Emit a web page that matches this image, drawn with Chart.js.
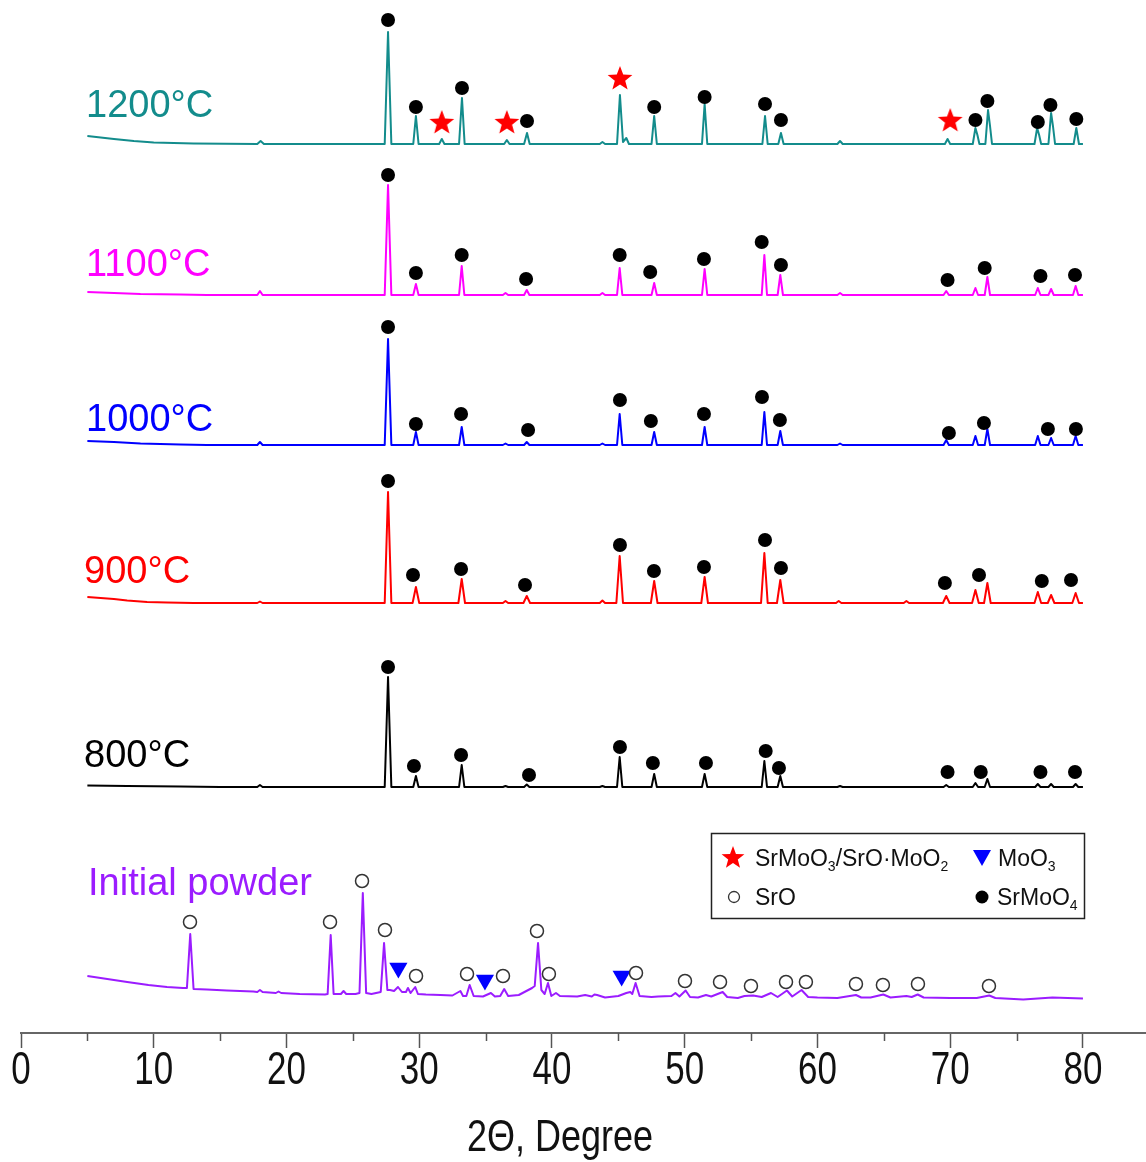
<!DOCTYPE html>
<html><head><meta charset="utf-8">
<script src="https://cdn.jsdelivr.net/npm/chart.js@4.4.0/dist/chart.umd.min.js"></script>
<style>html,body{margin:0;padding:0;background:#fff;} #wrap{width:1146px;height:1162px;}</style>
</head><body><div id="wrap"><canvas id="c" width="1146" height="1162"></canvas></div>
<script>
// ---------------- data ----------------
const seriesNames  = ['1200°C','1100°C','1000°C','900°C','800°C','Initial powder'];
const seriesColors = ['#138c8c','#ff00ff','#0000ff','#ff0000','#000000','#9b1cff'];
// vertical stacking offset of each pattern (intensity units)
const offsets = [889, 738, 588, 430, 246, 35];
const xTicks = [0,10,20,30,40,50,60,70,80];
const minorTicks = [5,15,25,35,45,55,65,75];
const xTitle = '2Θ, Degree';

// patterns: [2θ, intensity above own baseline]
const s1200 = [[5,8],[6,6.5],[7,5],[8.5,3],[10,1.5],[13,0.5],[17.8,0],[18.05,3],[18.3,0],
 [27.4,0],[27.65,112],[27.9,0],[29.55,0],[29.75,28],[29.95,0],[31.5,0],[31.7,5],[31.9,0],
 [33.0,0],[33.22,46],[33.42,0],[36.4,0],[36.6,4],[36.8,0],[37.9,0],[38.12,11],[38.32,0],
 [43.6,0],[43.8,2],[44.0,0],[44.9,0],[45.12,49],[45.35,2],[45.6,6],[45.8,0],
 [47.5,0],[47.7,28],[47.9,0],[51.3,0],[51.5,40],[51.7,0],[55.85,0],[56.05,28],[56.25,0],
 [57.05,0],[57.25,11],[57.45,0],[61.5,0],[61.7,3],[61.9,0],[69.6,0],[69.8,5],[70.0,0],
 [71.7,0],[71.9,16],[72.05,9],[72.2,0],[72.65,0],[72.85,34],[73.0,18],[73.15,0],
 [76.35,0],[76.55,16],[76.7,9],[76.85,0],[77.4,0],[77.6,31],[77.75,17],[77.9,0],
 [79.3,0],[79.5,16],[79.7,0],[80,0]];
const s1100 = [[5,3],[7,2],[9,1],[12,0.5],[14,0],[17.8,0],[18.0,4],[18.2,0],
 [27.4,0],[27.65,110],[27.9,0],[29.55,0],[29.75,11],[29.95,0],[33.0,0],[33.2,29],[33.4,0],
 [36.3,0],[36.5,2],[36.7,0],[37.9,0],[38.1,5],[38.3,0],[43.6,0],[43.8,2],[44.0,0],
 [44.9,0],[45.1,27],[45.3,0],[47.5,0],[47.7,12],[47.9,0],[51.3,0],[51.5,26],[51.7,0],
 [55.8,0],[56.0,40],[56.2,0],[57.0,0],[57.2,20],[57.4,0],[61.5,0],[61.7,2],[61.9,0],
 [69.5,0],[69.7,4],[69.9,0],[71.7,0],[71.9,7],[72.1,0],[72.6,0],[72.8,18],[73.0,0],
 [76.4,0],[76.6,7],[76.8,0],[77.4,0],[77.6,6],[77.8,0],[79.25,0],[79.45,9],[79.65,0],[80,0]];
const s1000 = [[5,4],[7,3],[9,1.5],[12,0.5],[14,0],[17.8,0],[18.0,3],[18.2,0],
 [27.4,0],[27.65,106],[27.9,0],[29.55,0],[29.75,13],[29.95,0],[33.0,0],[33.2,18],[33.4,0],
 [36.3,0],[36.5,1.5],[36.7,0],[37.9,0],[38.1,3],[38.3,0],[43.6,0],[43.8,1.5],[44.0,0],
 [44.9,0],[45.1,31],[45.3,0],[47.5,0],[47.7,13],[47.9,0],[51.3,0],[51.5,18],[51.7,0],
 [55.8,0],[56.0,33],[56.2,0],[57.0,0],[57.2,14],[57.4,0],[61.5,0],[61.7,1.5],[61.9,0],
 [69.5,0],[69.7,5],[69.9,0],[71.7,0],[71.9,9],[72.1,0],[72.6,0],[72.8,16],[73.0,0],
 [76.4,0],[76.6,9],[76.8,0],[77.4,0],[77.6,7],[77.8,0],[79.25,0],[79.45,9],[79.65,0],[80,0]];
const s900 = [[5,6],[6,5],[7,4],[8,2.5],[9.5,1],[11,0.5],[13,0],[17.8,0],[18.0,1.5],[18.2,0],
 [27.4,0],[27.65,111],[27.9,0],[29.5,0],[29.75,16],[30.0,0],[32.95,0],[33.2,24],[33.45,0],
 [36.3,0],[36.5,2],[36.7,0],[37.85,0],[38.1,7],[38.35,0],[43.6,0],[43.8,2.5],[44.0,0],
 [44.85,0],[45.1,47],[45.35,0],[47.45,0],[47.7,22],[47.95,0],[51.25,0],[51.5,26],[51.75,0],
 [55.75,0],[56.0,50],[56.25,0],[56.95,0],[57.2,23],[57.45,0],[61.4,0],[61.6,2],[61.8,0],
 [66.5,0],[66.7,2],[66.9,0],[69.45,0],[69.7,7],[69.95,0],[71.65,0],[71.9,13],[72.15,0],
 [72.55,0],[72.8,20],[73.05,0],[76.35,0],[76.6,11],[76.85,0],[77.35,0],[77.6,8],[77.85,0],
 [79.2,0],[79.45,10],[79.7,0],[80,0]];
const s800 = [[5,1.5],[8,1],[12,0.5],[15,0],[17.8,0],[18.0,2],[18.2,0],
 [27.4,0],[27.65,110],[27.9,0],[29.55,0],[29.75,11],[29.95,0],[33.0,0],[33.2,22],[33.4,0],
 [36.3,0],[36.5,1],[36.7,0],[37.9,0],[38.1,2.5],[38.3,0],[43.6,0],[43.8,1],[44.0,0],
 [44.9,0],[45.1,30],[45.3,0],[47.5,0],[47.7,13],[47.9,0],[51.3,0],[51.5,13],[51.7,0],
 [55.8,0],[56.0,26],[56.2,0],[57.0,0],[57.2,11],[57.4,0],[61.5,0],[61.7,1],[61.9,0],
 [69.5,0],[69.7,2],[69.9,0],[71.7,0],[71.9,4],[72.1,0],[72.6,0],[72.8,8],[73.0,0],
 [76.4,0],[76.6,3],[76.8,0],[77.4,0],[77.6,3],[77.8,0],[79.25,0],[79.45,3],[79.65,0],[80,0]];
const sInit = [[5.0,22],[6,20],[7,18],[8,16],[9.6,13],[11,11],[12.2,10],[12.5,10],[12.75,64],[13.0,9],
 [14,8.5],[15.5,7.5],[17.5,6.5],[17.8,6],[18.0,8],[18.2,6],[19.2,5],[19.4,6.5],[19.6,5],[21,4],
 [22.9,3.5],[23.1,4],[23.33,63],[23.55,4],[24.1,4],[24.3,7],[24.5,4],[25.2,4],[25.5,5],[25.75,105],
 [26.0,5],[26.4,4],[27.1,6],[27.35,55],[27.6,8],[27.8,8],[28.1,7],[28.4,11],[28.7,6],[29.0,6],
 [29.15,10],[29.35,5],[29.7,11],[29.9,4],[30.5,3.5],[31.6,3],[32.5,2.5],[33.1,7],[33.3,2],[33.55,2],
 [33.8,13],[34.1,2],[34.8,1.5],[35.4,5],[35.7,1.5],[36.1,2],[36.4,9],[36.7,2],[37.5,3],[38.5,10],
 [38.7,12],[38.95,55],[39.2,8],[39.45,4],[39.7,15],[39.95,2],[40.3,5],[40.6,2],[41.9,1.5],[42.5,3],
 [43.0,1.5],[43.2,3.5],[43.4,3],[44.0,0.5],[45.0,2],[45.6,5],[45.9,6],[46.05,4],[46.3,15],[46.6,2],
 [47.5,1],[48.0,1.5],[49.0,2],[49.3,5],[49.6,1.5],[50.07,7.5],[50.4,1],[51.0,0.5],[51.6,3],[52.0,1.5],
 [52.86,6],[53.2,1],[54.0,0],[54.5,2],[55.15,2.5],[55.8,1],[56.5,5],[57.0,1],[57.7,7.5],[58.1,1.5],
 [58.8,8],[59.3,1],[60,0.5],[61.5,0],[62.9,3],[63.3,0.5],[64.0,0.5],[64.96,3.5],[65.5,0.5],[66.7,2],
 [67.1,1],[67.55,3.5],[68.0,0.5],[70,0],[72.0,0],[72.94,2.5],[73.4,0],[75.5,-1.5],[77.7,0.5],[80,-0.5]];
const patterns = [s1200, s1100, s1000, s900, s800, sInit];

// phase markers: [2θ, height above own baseline]
const srmoo4Marks = [
 [[27.65,124],[29.75,37],[33.22,56],[38.12,23],[47.7,37],[51.5,47],[56.05,40],[57.25,24],[71.9,24],[72.8,43],[76.6,22],[77.55,39],[79.5,25]],
 [[27.65,120],[29.75,22],[33.2,40],[38.05,16],[45.1,40],[47.4,23],[51.45,36],[55.8,53],[57.25,30],[69.8,15],[72.6,27],[76.8,19],[79.4,20]],
 [[27.65,118],[29.75,21],[33.15,31],[38.2,15],[45.12,45],[47.45,24],[51.45,31],[55.82,48],[57.17,25],[69.9,12],[72.54,22],[77.36,16],[79.47,16]],
 [[27.65,122],[29.53,28],[33.15,34],[37.97,18],[45.12,58],[47.68,32],[51.45,36],[56.05,63],[57.25,35],[69.6,20],[72.17,28],[76.9,22],[79.1,23]],
 [[27.65,120],[29.6,21],[33.15,32],[38.27,12],[45.12,40],[47.6,24],[51.6,24],[56.1,36],[57.1,19],[69.8,15],[72.3,15],[76.8,15],[79.4,15]],
 []
];
const srmoo3Marks1200 = [[31.7,21],[36.6,21],[45.12,65],[70.0,23]];
const sroMarksInit = [[12.73,76],[23.28,76],[25.69,117],[27.42,68],[29.76,22],[33.6,24],[36.31,22],[38.87,67],[39.77,24],
 [46.33,25],[50.02,17],[52.66,16],[54.99,12],[57.63,16],[59.13,16],[62.9,14],[64.93,13],[67.57,14],[72.92,12]];
const moo3MarksInit = [[28.43,30],[34.95,18],[45.25,22]];
const legendLabels = [['SrMoO','3','/SrO·MoO','2'],['MoO','3'],['SrO'],['SrMoO','4']];

// ---------------- drawing ----------------
const SANS = "'Liberation Sans',Arial,Helvetica,sans-serif";

function makeStar(R, color){
  const s = Math.ceil(R*2+2), c = document.createElement('canvas');
  c.width = s; c.height = s;
  const g = c.getContext('2d'); g.fillStyle = color; g.beginPath();
  for (let i=0;i<10;i++){ const r = i%2 ? R*0.42 : R; const a = -Math.PI/2 + i*Math.PI/5;
    g.lineTo(s/2 + r*Math.cos(a), s/2 + r*Math.sin(a)); }
  g.closePath(); g.fill(); return c;
}
const starImg = makeStar(13, '#ff0000');

const shift = (arr, off) => arr.map(p => ({x:p[0], y:p[1]+off}));
const datasets = [];
patterns.forEach((p,i) => datasets.push({
  data: shift(p, offsets[i]), showLine:true, borderColor:seriesColors[i], borderWidth:2,
  pointRadius:0, tension:0, order:2, borderJoinStyle:'round'
}));
srmoo4Marks.forEach((m,i) => { if (m.length) datasets.push({
  data: shift(m, offsets[i]), showLine:false, pointStyle:'circle', pointRadius:7,
  pointBackgroundColor:'#000', pointBorderColor:'#000', pointBorderWidth:0, order:0 }); });
datasets.push({ data: shift(srmoo3Marks1200, offsets[0]), showLine:false, pointStyle:starImg, pointRadius:13, order:0 });
datasets.push({ data: shift(sroMarksInit, offsets[5]), showLine:false, pointStyle:'circle', pointRadius:6.5,
  pointBackgroundColor:'#fff', pointBorderColor:'#333', pointBorderWidth:1.5, order:0 });
datasets.push({ data: shift(moo3MarksInit, offsets[5]), showLine:false, pointStyle:'triangle', pointRotation:180, pointRadius:10.5,
  pointBackgroundColor:'#0000ff', pointBorderColor:'#0000ff', pointBorderWidth:0, order:0 });

// label anchors: [2θ, height above own baseline] of text baseline start
const labelAnchors = [[4.9,27],[4.9,19],[4.9,14],[4.75,20],[4.75,20],[5.05,103]];

const decor = {
  id:'decor',
  afterDraw(chart){
    const ctx = chart.ctx, xs = chart.scales.x, ys = chart.scales.y;
    ctx.save();
    const yb = chart.chartArea.bottom;
    // minor ticks
    ctx.strokeStyle = '#555'; ctx.lineWidth = 1.5;
    minorTicks.forEach(v => { const px = Math.round(xs.getPixelForValue(v))+0.5;
      ctx.beginPath(); ctx.moveTo(px, yb); ctx.lineTo(px, yb+8); ctx.stroke(); });
    // tick labels (narrow Arial look)
    ctx.fillStyle = '#111'; ctx.textAlign = 'center'; ctx.textBaseline = 'middle';
    ctx.font = '46px ' + SANS;
    xTicks.forEach(v => { ctx.save(); ctx.translate(xs.getPixelForValue(v), yb+38); ctx.scale(0.76,1);
      ctx.fillText(String(v), 0, 0); ctx.restore(); });
    // axis title
    ctx.save(); ctx.translate(560, yb+106); ctx.scale(0.8,1); ctx.font = '45px ' + SANS;
    ctx.fillText(xTitle, 0, 0); ctx.restore();
    // series labels
    ctx.font = '38px ' + SANS; ctx.textBaseline = 'alphabetic'; ctx.textAlign = 'left';
    seriesNames.forEach((n,i) => { ctx.fillStyle = seriesColors[i];
      ctx.fillText(n, xs.getPixelForValue(labelAnchors[i][0]), ys.getPixelForValue(offsets[i]+labelAnchors[i][1])); });
    // legend box
    ctx.strokeStyle = '#222'; ctx.lineWidth = 1.5;
    ctx.strokeRect(711.5, 833.5, 373, 85);
    ctx.drawImage(makeStar(12,'#ff0000'), 733-13, 858-13);
    ctx.fillStyle = '#0000ff'; ctx.beginPath(); ctx.moveTo(973,850); ctx.lineTo(991,850); ctx.lineTo(982,866); ctx.closePath(); ctx.fill();
    ctx.fillStyle = '#fff'; ctx.strokeStyle = '#333'; ctx.lineWidth = 1.3;
    ctx.beginPath(); ctx.arc(734, 897, 5.5, 0, Math.PI*2); ctx.fill(); ctx.stroke();
    ctx.fillStyle = '#000'; ctx.beginPath(); ctx.arc(982, 897, 6.5, 0, Math.PI*2); ctx.fill();
    const drawRich = (parts, x, y) => {
      ctx.fillStyle = '#111';
      parts.forEach((t,k) => { const sub = k%2===1;
        ctx.font = (sub ? '14px ' : '23px ') + SANS;
        ctx.fillText(t, x, sub ? y+5 : y); x += ctx.measureText(t).width; });
    };
    drawRich(legendLabels[0], 755, 866);
    drawRich(legendLabels[1], 998, 866);
    drawRich(legendLabels[2], 755, 905);
    drawRich(legendLabels[3], 997, 905);
    ctx.restore();
  }
};

new Chart(document.getElementById('c'), {
  type:'scatter',
  data:{ datasets },
  options:{
    responsive:false, devicePixelRatio:1, animation:false,
    layout:{ autoPadding:false, padding:{ left:21, right:0, top:0, bottom:114 } },
    plugins:{ legend:{display:false}, tooltip:{enabled:false} },
    scales:{
      x:{ type:'linear', min:0, max:84.75, position:'bottom',
        afterBuildTicks: s => { s.ticks = xTicks.map(v => ({value:v})); },
        afterFit: s => { s.paddingLeft = 0; s.paddingRight = 0; },
        ticks:{ display:false },
        grid:{ display:true, drawOnChartArea:false, drawTicks:true, tickLength:15, tickColor:'#555', tickWidth:1.5 },
        border:{ display:true, color:'#666', width:2 },
        title:{ display:false }
      },
      y:{ display:false, min:0, max:1033 }
    }
  },
  plugins:[decor]
});
</script></body></html>
